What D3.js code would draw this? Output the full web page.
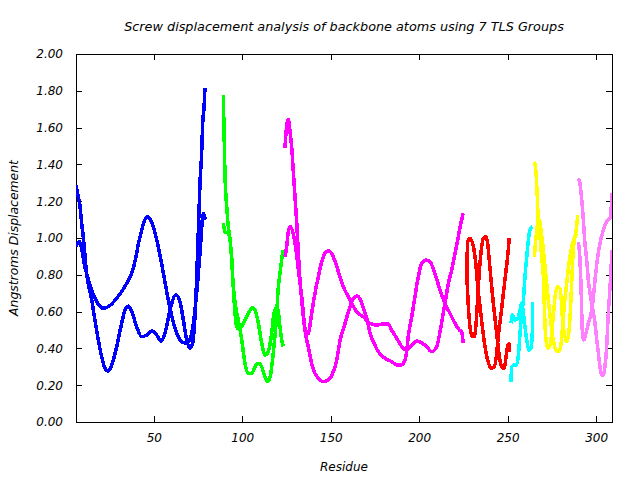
<!DOCTYPE html>
<html><head><meta charset="utf-8">
<script src="https://cdn.jsdelivr.net/npm/d3@7"></script>
<style>
body{margin:0;background:#fff;}
text{font-family:"DejaVu Sans",sans-serif;font-style:italic;font-size:12px;fill:#000;}
</style></head>
<body><svg id="c" width="640" height="480"></svg>
<script>
// ---- data: [residue, displacement] ----
const blueA=[[6.0,0.953],[7.9,0.98],[11.1,0.84],[14.9,0.717],[17.7,0.654],[21.4,0.618],[24.3,0.627],[29.0,0.672],[34.7,0.754],[38.4,0.835],[42.2,1.007],[46.3,1.116],[49.7,1.061],[52.5,0.953],[55.4,0.808],[58.2,0.663],[62.0,0.509],[65.8,0.436],[68.6,0.428],[71.4,0.482],[74.2,0.70],[76.1,0.917],[78.0,1.134],[79.2,1.10]];
const blueB=[[6.0,1.288],[7.3,1.225],[8.3,1.17],[9.2,1.08],[10.1,1.007],[12.0,0.808],[14.9,0.663],[16.7,0.554],[18.6,0.446],[20.5,0.355],[22.4,0.292],[24.3,0.277],[26.2,0.31],[29.0,0.409],[31.8,0.536],[33.7,0.609],[35.6,0.63],[37.5,0.60],[40.3,0.518],[43.1,0.464],[46.0,0.473],[48.8,0.495],[51.6,0.473],[54.0,0.44],[56.3,0.482],[59.1,0.609],[62.5,0.69],[64.8,0.654],[66.7,0.554],[68.6,0.446],[70.4,0.40],[72.0,0.43],[73.5,0.62],[75.1,1.025],[76.1,1.30],[77.1,1.478],[77.6,1.623],[78.4,1.71],[78.9,1.813]];
const greenA=[[89.3,1.777],[89.7,1.57],[90.2,1.351],[91.2,1.17],[92.1,1.061],[93.1,0.989],[94.0,0.898],[94.9,0.735],[95.9,0.59],[96.8,0.518],[98.3,0.504],[100.6,0.536],[103.4,0.59],[105.7,0.621],[107.2,0.609],[109.1,0.536],[111.0,0.428],[112.8,0.364],[114.7,0.382],[116.6,0.482],[117.9,0.59],[119.5,0.627],[120.4,0.60],[121.3,0.518],[122.3,0.446],[123.2,0.41]];
const greenB=[[89.3,1.08],[90.2,1.034],[92.1,1.025],[93.5,0.95],[94.5,0.80],[95.5,0.68],[97.7,0.554],[99.7,0.446],[101.5,0.319],[103.4,0.264],[105.3,0.264],[107.2,0.30],[109.1,0.319],[111.0,0.30],[112.8,0.246],[114.4,0.219],[116.1,0.264],[117.5,0.373],[119.1,0.536],[120.4,0.735],[121.3,0.808],[122.5,0.898],[123.2,0.935]];
const magentaA=[[124.1,1.487],[124.7,1.569],[126.0,1.645],[126.9,1.587],[127.9,1.496],[128.8,1.37],[129.8,1.224],[130.8,1.08],[131.7,0.917],[132.6,0.772],[133.6,0.663],[134.5,0.572],[136.0,0.464],[137.3,0.41],[139.2,0.319],[141.1,0.264],[143.0,0.238],[145.8,0.219],[148.6,0.228],[151.1,0.264],[153.4,0.337],[155.2,0.44],[158.1,0.536],[160.9,0.627],[162.8,0.672],[164.7,0.685],[166.9,0.663],[168.8,0.609],[170.7,0.554],[172.2,0.482],[174.1,0.436],[176.9,0.382],[180.7,0.346],[184.5,0.328],[187.3,0.31],[190.1,0.31],[192.5,0.355],[193.8,0.464],[195.8,0.572],[197.6,0.681],[199.5,0.79],[201.4,0.862],[203.9,0.88],[206.1,0.871],[208.9,0.808],[211.8,0.717],[214.6,0.645],[217.4,0.59],[220.3,0.536],[222.7,0.50],[224.0,0.491],[224.9,0.428]];
const magentaB=[[124.1,0.898],[125.1,0.953],[126.0,1.034],[127.3,1.061],[128.8,1.025],[130.4,0.935],[131.7,0.826],[133.6,0.681],[134.9,0.554],[136.0,0.475],[137.3,0.482],[139.2,0.59],[141.1,0.70],[143.0,0.79],[144.9,0.871],[146.8,0.917],[148.6,0.931],[150.5,0.917],[152.5,0.871],[155.2,0.79],[157.1,0.735],[159.9,0.681],[162.8,0.627],[165.6,0.59],[168.4,0.572],[172.2,0.536],[176.0,0.527],[179.7,0.533],[182.5,0.533],[184.4,0.50],[187.3,0.455],[190.1,0.41],[192.9,0.391],[195.8,0.418],[198.6,0.44],[201.4,0.43],[204.2,0.41],[207.1,0.382],[209.9,0.41],[211.8,0.491],[213.6,0.59],[215.2,0.681],[216.5,0.754],[218.4,0.826],[220.3,0.917],[222.1,1.007],[224.0,1.098],[224.9,1.134]];
const redA=[[226.9,0.80],[227.2,0.93],[227.6,0.985],[228.4,0.998],[229.7,0.985],[231.0,0.935],[232.0,0.862],[233.1,0.735],[234.4,0.627],[235.7,0.518],[237.2,0.41],[238.7,0.337],[240.6,0.292],[242.5,0.30],[243.8,0.373],[244.7,0.464],[246.3,0.59],[247.6,0.70],[248.9,0.808],[250.0,0.898],[250.9,0.998]];
const redB=[[226.9,0.80],[227.8,0.627],[228.7,0.518],[230.0,0.464],[231.2,0.464],[232.0,0.518],[232.9,0.645],[233.8,0.79],[234.9,0.917],[236.2,0.998],[237.6,1.007],[238.7,0.971],[239.6,0.88],[241.0,0.735],[242.3,0.609],[243.8,0.482],[245.1,0.373],[246.6,0.30],[248.0,0.292],[248.9,0.337],[249.8,0.40],[250.8,0.428],[250.9,0.382]];
const cyanA=[[251.9,0.219],[252.3,0.30],[253.8,0.31],[255.1,0.31],[256.0,0.355],[257.0,0.482],[258.0,0.59],[258.9,0.663],[259.8,0.79],[260.8,0.898],[261.7,0.989],[262.6,1.043],[264.0,1.061]];
const cyanB=[[251.9,0.536],[252.6,0.582],[254.2,0.554],[255.7,0.563],[257.0,0.609],[258.0,0.645],[258.9,0.59],[259.8,0.518],[260.8,0.446],[262.1,0.391],[263.2,0.40],[264.0,0.50],[264.2,0.654]];
const yellowA=[[265.1,1.415],[265.9,1.37],[266.4,1.297],[267.0,1.17],[267.3,1.08],[268.3,1.007],[268.9,0.935],[269.6,0.862],[270.4,0.754],[270.7,0.645],[271.1,0.536],[271.7,0.446],[272.7,0.40],[274.0,0.418],[274.9,0.482],[275.8,0.572],[276.8,0.681],[278.1,0.735],[279.6,0.726],[280.2,0.681],[280.9,0.572],[282.0,0.482],[283.4,0.436],[284.3,0.464],[285.3,0.572],[286.2,0.754],[287.1,0.935],[288.1,1.007],[289.0,1.061],[289.6,1.125]];
const yellowB=[[265.1,0.898],[265.9,0.989],[267.0,1.08],[267.9,1.098],[268.9,1.043],[270.2,0.935],[271.5,0.808],[273.0,0.663],[274.5,0.536],[275.8,0.446],[277.2,0.391],[278.6,0.382],[280.0,0.41],[280.9,0.50],[282.0,0.627],[283.4,0.754],[284.7,0.862],[286.2,0.953],[287.7,0.998],[289.0,1.025]];
const violetA=[[290.0,1.324],[290.9,1.297],[291.9,1.207],[292.8,1.098],[293.7,0.971],[294.7,0.88],[295.6,0.772],[296.6,0.70],[297.5,0.645],[299.4,0.536],[300.4,0.446],[301.3,0.373],[302.2,0.30],[303.2,0.255],[304.1,0.255],[305.0,0.30],[306.0,0.41],[306.9,0.59],[307.9,0.735],[308.8,0.898],[309.0,0.935]];
const violetB=[[290.0,0.98],[290.9,0.88],[291.5,0.735],[291.9,0.59],[292.4,0.464],[293.2,0.446],[294.3,0.482],[295.6,0.536],[297.0,0.582],[298.1,0.645],[299.4,0.772],[300.7,0.88],[302.2,0.971],[304.1,1.043],[306.0,1.089],[307.5,1.107],[308.3,1.116],[308.8,1.243]];

const xTicks=[50,100,150,200,250,300];
const yTicks=[0,0.2,0.4,0.6,0.8,1.0,1.2,1.4,1.6,1.8,2.0];
const xDomain=[6,309];
const yDomain=[0,2];
const titleText="Screw displacement analysis of backbone atoms using 7 TLS Groups";
const xLabel="Residue";
const yLabel="Angstroms Displacement";

const groupColors=["#0000ff","#00ff00","#ff00ff","#ff0000","#00ffff","#ffff00","#ff80ff"];
const groups=[[blueA,blueB],[greenA,greenB],[magentaA,magentaB],[redA,redB],[cyanA,cyanB],[yellowA,yellowB],[violetA,violetB]];

// ---- layout ----
const L=76,R=612,T=54,B=422,TS=6;
const svg=d3.select("#c");
const x=d3.scaleLinear().domain(xDomain).range([L,R]);
const y=d3.scaleLinear().domain(yDomain).range([B,T]);

// axes
const fmtY=d3.format(".2f");
const gl=svg.append("g").attr("transform",`translate(${L},0)`)
  .call(d3.axisLeft(y).tickValues(yTicks).tickSize(-TS).tickPadding(13).tickFormat(fmtY));
const gr=svg.append("g").attr("transform",`translate(${R},0)`)
  .call(d3.axisRight(y).tickValues(yTicks).tickSize(-TS).tickFormat(""));
const gb=svg.append("g").attr("transform",`translate(0,${B})`)
  .call(d3.axisBottom(x).tickValues(xTicks).tickSize(-TS).tickPadding(11).tickFormat(d3.format("d")));
const gt=svg.append("g").attr("transform",`translate(0,${T})`)
  .call(d3.axisTop(x).tickValues(xTicks).tickSize(-TS).tickFormat(""));
[gl,gr,gb,gt].forEach(g=>{
  g.select(".domain").remove();
  g.selectAll("line").attr("stroke","#000").attr("shape-rendering","crispEdges");
  g.selectAll("text").attr("font-family",null).attr("font-size",null);
});
svg.append("rect").attr("x",L).attr("y",T).attr("width",R-L).attr("height",B-T)
  .attr("fill","none").attr("stroke","#000").attr("stroke-width",1).attr("shape-rendering","crispEdges");

// clip
svg.append("clipPath").attr("id","pc").append("rect").attr("x",L).attr("y",T).attr("width",R-L).attr("height",B-T);

const line=d3.line().x(d=>x(d[0])).y(d=>y(d[1])).curve(d3.curveMonotoneX);
const plot=svg.append("g").attr("clip-path","url(#pc)");
groups.forEach((curves,i)=>{
  curves.forEach(c=>{
    plot.append("path").datum(c).attr("d",line)
      .attr("fill","none").attr("stroke",groupColors[i]).attr("stroke-width",3.5)
      .attr("stroke-linejoin","round").attr("shape-rendering","crispEdges");
  });
});

// titles
svg.append("text").attr("x",(L+R)/2).attr("y",31).attr("text-anchor","middle").style("font-size","12.8px").text(titleText);
svg.append("text").attr("x",(L+R)/2).attr("y",471).attr("text-anchor","middle").text(xLabel);
svg.append("text").attr("transform",`translate(18,${(T+B)/2}) rotate(-90)`).attr("text-anchor","middle").style("font-size","12.4px").text(yLabel);
</script></body></html>
